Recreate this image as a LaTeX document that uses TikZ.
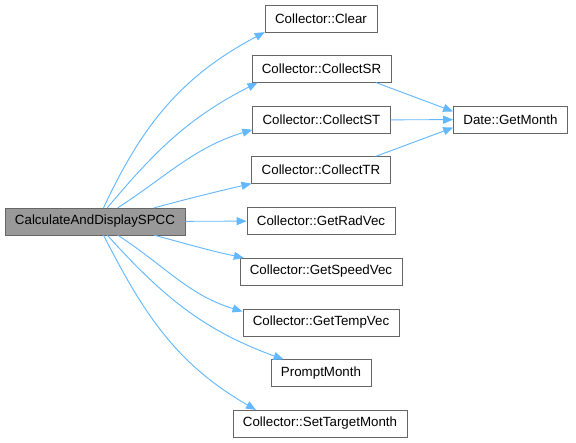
\documentclass[tikz,border=0pt]{standalone}
\usepackage{fontspec}
\setmainfont{Liberation Sans}
\usetikzlibrary{arrows.meta}
\definecolor{cgedge}{HTML}{63B8FF}
\definecolor{cgborder}{HTML}{666666}
\definecolor{cgmain}{HTML}{999999}

\begin{document}
\begin{tikzpicture}[
 x=0.75pt,y=0.75pt,
 fn/.style={draw=cgborder,fill=white,font=\fontsize{10pt}{12pt}\selectfont,inner xsep=7.5pt,inner ysep=0pt,minimum height=20pt},
 root/.style={fn,fill=cgmain},
 arr/.style={-{Triangle[length=7.5pt,width=6pt]},draw=cgedge,line width=0.7pt}
]
\useasboundingbox (0,0) rectangle (576,-443);
\node[root] (calc) at (95,-221.5) {CalculateAndDisplaySPCC};
\node[fn] (clear) at (321,-18.5) {Collector::Clear};
\node[fn] (csr) at (321.5,-69) {Collector::CollectSR};
\node[fn] (cst) at (321.5,-120) {Collector::CollectST};
\node[fn] (ctr) at (321,-170) {Collector::CollectTR};
\node[fn] (grad) at (321,-221) {Collector::GetRadVec};
\node[fn] (gspeed) at (321,-271.5) {Collector::GetSpeedVec};
\node[fn] (gtemp) at (321,-322.5) {Collector::GetTempVec};
\node[fn] (prompt) at (321,-373) {PromptMonth};
\node[fn] (settm) at (320,-423.5) {Collector::SetTargetMonth};
\node[fn] (gmonth) at (510.5,-119.5) {Date::GetMonth};
\draw[arr] (calc.58) to[out=65,in=208] (clear.south west);
\draw[arr] (calc.48) to[out=50,in=207] (csr.192);
\draw[arr] (calc.31) to[out=33,in=197] (cst.188);
\draw[arr] (calc.13) to[out=15,in=193] (ctr.south west);
\draw[arr] (calc) -- (grad);
\draw[arr] (calc.-13) to[out=-15,in=168] (gspeed.170);
\draw[arr] (calc.-31) to[out=-33,in=163] (gtemp.172);
\draw[arr] (calc.-48) to[out=-48,in=160] (prompt.160);
\draw[arr] (calc.-58) to[out=-63,in=150] (settm.168);
\draw[arr] (csr.-14) -- (gmonth.172);
\draw[arr] (cst) -- (gmonth);
\draw[arr] (ctr.14) -- (gmonth.188);
\end{tikzpicture}
\end{document}
